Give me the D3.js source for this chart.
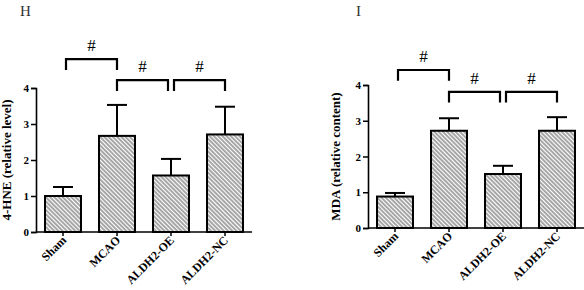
<!DOCTYPE html>
<html>

<head>
    <meta charset="UTF-8" />
    <title>4-HNE / MDA</title>
    <style>
        body {
            margin: 0;
            padding: 0;
            background: #fff;
        }

        svg text {
            font-family: 'Liberation Serif', 'Times New Roman', serif;
        }
    </style>
</head>

<body>
    <div class="container"></div>

    <script src="https://cdnjs.cloudflare.com/ajax/libs/d3/7.8.5/d3.min.js"></script>
    <script>
        const groups = ["Sham", "MCAO", "ALDH2-OE", "ALDH2-NC"];
        const yTicks = [0, 1, 2, 3, 4];

        const hneMean = [1.0, 2.67, 1.57, 2.71];
        const hneErr = [0.25, 0.86, 0.46, 0.77];

        const mdaMean = [0.88, 2.72, 1.51, 2.72];
        const mdaErr = [0.10, 0.35, 0.23, 0.38];

        // pairs compared with "#"
        const pairs = [[0, 1], [1, 2], [2, 3]];

        const w = 584, h = 290;

        const svg = d3.select(".container").append('svg')
            .attr('width', w)
            .attr('height', h)

        const defs = svg.append('defs');
        defs.append('pattern')
            .attr('id', 'hatch')
            .attr('patternUnits', 'userSpaceOnUse')
            .attr('width', 3)
            .attr('height', 3)
            .attr('patternTransform', 'rotate(-45)')
            .call(p => {
                p.append('rect').attr('width', 3).attr('height', 3).attr('fill', '#fff');
                p.append('line')
                    .attr('x1', 1).attr('y1', 0).attr('x2', 1).attr('y2', 3)
                    .attr('stroke', '#777').attr('stroke-width', 1.3);
            });

        function drawPanel(opt) {
            const g = svg.append('g');

            const x = d3.scaleBand().domain(groups)
                .range([opt.left, opt.right])
                .paddingInner(1 / 3).paddingOuter(1 / 6);
            const y = d3.scaleLinear().domain([0, 4]).range([opt.bottom, opt.top]);

            // panel letter
            g.append('text')
                .attr('x', opt.letterX).attr('y', 16)
                .attr('font-size', 15)
                .attr('fill', '#333')
                .text(opt.letter);

            // y axis
            const yAxis = g.append('g')
                .attr('transform', `translate(${opt.left},0)`)
                .call(d3.axisLeft(y).tickValues(yTicks).tickSize(5).tickPadding(2).tickFormat(d3.format('d')));
            yAxis.select('.domain').attr('stroke', '#000').attr('stroke-width', 1.6);
            yAxis.selectAll('.tick line').attr('stroke', '#000').attr('stroke-width', 1.5);
            yAxis.selectAll('.tick text')
                .attr('font-family', "'Liberation Serif', serif")
                .attr('font-weight', 'bold').attr('font-size', 11).attr('fill', '#000');

            g.append('text')
                .attr('transform', `translate(${opt.titleX},${(opt.top + opt.bottom) / 2}) rotate(-90)`)
                .attr('text-anchor', 'middle')
                .attr('font-weight', 'bold')
                .attr('font-size', 13)
                .text(opt.title);

            // bars
            g.selectAll('.bar').data(opt.mean).join('rect')
                .attr('x', (d, i) => x(groups[i]))
                .attr('y', d => y(d))
                .attr('width', x.bandwidth())
                .attr('height', d => y(0) - y(d))
                .attr('fill', 'url(#hatch)')
                .attr('stroke', '#000')
                .attr('stroke-width', 2);

            // error bars (upper only)
            const cx = i => x(groups[i]) + x.bandwidth() / 2;
            opt.mean.forEach((m, i) => {
                const top = y(m + opt.err[i]);
                g.append('line')
                    .attr('x1', cx(i)).attr('x2', cx(i))
                    .attr('y1', y(m)).attr('y2', top)
                    .attr('stroke', '#000').attr('stroke-width', 2);
                g.append('line')
                    .attr('x1', cx(i) - 10).attr('x2', cx(i) + 10)
                    .attr('y1', top).attr('y2', top)
                    .attr('stroke', '#000').attr('stroke-width', 2);
            });

            // x axis
            const xAxis = g.append('g')
                .attr('transform', `translate(0,${opt.bottom})`)
                .call(d3.axisBottom(x).tickSize(4).tickSizeOuter(0).tickFormat(''));
            xAxis.select('.domain').attr('stroke', '#000').attr('stroke-width', 1.6)
                .attr('d', `M${opt.left},0H${opt.right}`);
            xAxis.selectAll('.tick line').attr('stroke', '#000').attr('stroke-width', 1.5);

            groups.forEach((name, i) => {
                g.append('text')
                    .attr('transform', `translate(${cx(i) + 4},${opt.bottom + 9}) rotate(-45)`)
                    .attr('text-anchor', 'end')
                    .attr('font-weight', 'bold')
                    .attr('font-size', 12)
                    .text(name);
            });

            // significance brackets
            pairs.forEach(([a, b], k) => {
                const hi = k === 0 ? opt.b1 : opt.b2;
                const lo = hi - 0.3;
                const xa = cx(a) + (k === 1 ? 0 : 3);
                const xb = cx(b) - (k === 1 ? 3 : 0);
                g.append('path')
                    .attr('d', `M${xa},${y(lo)}V${y(hi)}H${xb}V${y(lo)}`)
                    .attr('fill', 'none')
                    .attr('stroke', '#000')
                    .attr('stroke-width', 2.2);
                g.append('text')
                    .attr('x', (xa + xb) / 2)
                    .attr('y', y(hi) - 8)
                    .attr('text-anchor', 'middle')
                    .attr('font-family', "'Liberation Sans', Arial, sans-serif")
                    .attr('font-size', 17)
                    .text('#');
            });
        }

        drawPanel({
            letter: 'H', letterX: 20,
            left: 36, right: 252, top: 88, bottom: 232,
            title: '4-HNE (relative level)', titleX: 11,
            mean: hneMean, err: hneErr,
            b1: 4.8, b2: 4.22
        });

        drawPanel({
            letter: 'I', letterX: 356,
            left: 368, right: 584, top: 85, bottom: 228,
            title: 'MDA (relative content)', titleX: 340,
            mean: mdaMean, err: mdaErr,
            b1: 4.42, b2: 3.81
        });
    </script>
</body>

</html>
